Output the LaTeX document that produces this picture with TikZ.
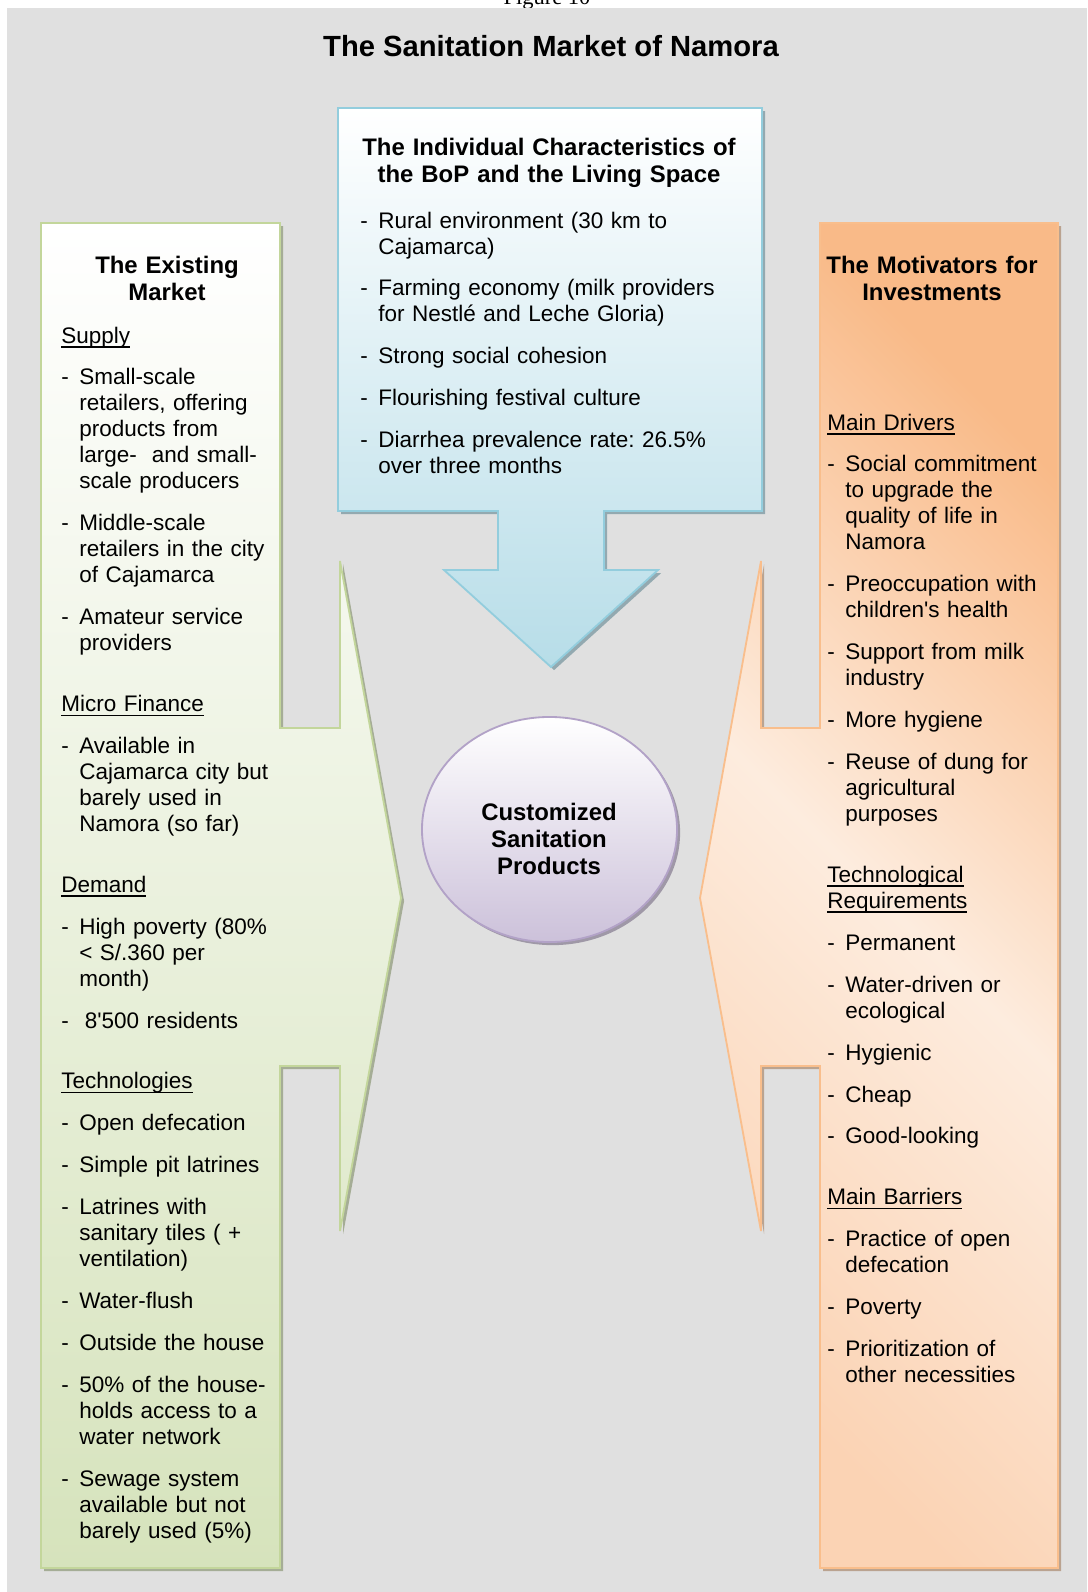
\documentclass[tikz,border=0pt]{standalone}
\usepackage{fontspec}
\setmainfont{Liberation Sans}
\newfontfamily\figfont{Liberation Serif}
\usetikzlibrary{shapes.geometric,shadows}
\frenchspacing

\definecolor{bggray}{RGB}{224,224,224}
\definecolor{grnline}{RGB}{195,214,155}
\definecolor{grnfill}{RGB}{214,227,188}
\definecolor{bluline}{RGB}{147,205,221}
\definecolor{blufill}{RGB}{183,221,232}
\definecolor{orgline}{RGB}{249,190,140}
\definecolor{orgdark}{RGB}{249,186,136}
\definecolor{orgmid}{RGB}{251,211,180}
\definecolor{orglight}{RGB}{253,236,222}
\definecolor{violine}{RGB}{178,162,199}
\definecolor{viofill}{RGB}{204,193,218}

% list items with a hanging dash, and underlined headings
\newlength{\dashw}
\setlength{\dashw}{12.8pt}
\newsavebox{\ulbox}
\newcommand{\ulw}[1]{\sbox{\ulbox}{#1}\rlap{\rule[-3.3pt]{\wd\ulbox}{1.1pt}}\usebox{\ulbox}}
\newcommand{\itm}[1]{\setlength{\parskip}{11.3pt}\hangindent=\dashw\hangafter=1\noindent\makebox[\dashw][l]{-}#1\par}
\newcommand{\hdr}[1]{\setlength{\parskip}{11.3pt}\noindent#1\par}
\newcommand{\sect}[1]{\vspace{13.4pt}\hdr{#1}}

\begin{document}
\begin{tikzpicture}[x=0.025cm,y=-0.025cm,
  body/.style={anchor=base west,inner sep=0pt,align=left,font=\fontsize{16}{18.5}\selectfont},
  head/.style={anchor=base,inner sep=0pt,align=center,text width=10cm,font=\fontsize{17}{19.5}\selectfont\bfseries},
  panel/.style={draw=#1line,line width=1.3pt,
    drop shadow={shadow xshift=2.2pt,shadow yshift=-2.2pt,fill=#1line!65!black,opacity=0.6}}]
  \useasboundingbox (0,0) rectangle (1087,1592);
  \node[anchor=base,inner sep=0pt,font=\figfont\fontsize{16}{18}\selectfont] (figcap) at (547,4) {Figure 10};
  \fill[bggray] (7,8) rectangle (1087,1592);
  \node[anchor=base,inner sep=0pt,font=\fontsize{20.75}{24}\selectfont\bfseries] (title) at (551,56.5) {The Sanitation Market of Namora};

  % panels
  \draw[panel=grn,top color=white,bottom color=grnfill]
    (41,223) -- (280,223) -- (280,728) -- (340,728) -- (340,561) -- (401,898) -- (340,1231)
    -- (340,1066) -- (280,1066) -- (280,1568) -- (41,1568) -- cycle;
  \draw[panel=org,top color=orgdark,bottom color=orgmid,middle color=orglight,shading angle=-45]
    (820,223) -- (1058,223) -- (1058,1568) -- (820,1568) -- (820,1066) -- (761,1066) -- (761,1231)
    -- (700,898) -- (761,561) -- (761,728) -- (820,728) -- cycle;
  \draw[panel=blu,top color=white,bottom color=blufill]
    (338,108) -- (762,108) -- (762,511) -- (604,511) -- (604,570) -- (658,570) -- (551,667)
    -- (444,570) -- (498,570) -- (498,511) -- (338,511) -- cycle;
  \node[ellipse,panel=vio,top color=white,bottom color=viofill,inner sep=0pt,
    minimum width=6.375cm,minimum height=5.625cm] (prod) at (549.5,829.5) {};
  \node[head] (prodtxt) at (549,820) {Customized\\Sanitation\\Products};

  % headings
  \node[head] (bophead) at (549,155) {The Individual Characteristics of\\the BoP and the Living Space};
  \node[head] (mkthead) at (167,273.5) {The Existing\\Market};
  \node[head] (mothead) at (932,273.5) {The Motivators for\\Investments};

  % texts
  \node[body,text width=9.6cm] (boptext) at (360,228) {%
    \itm{Rural environment (30 km to\newline Cajamarca)}
    \itm{Farming economy (milk providers\newline for Nestlé and Leche Gloria)}
    \itm{Strong social cohesion}
    \itm{Flourishing festival culture}
    \itm{Diarrhea prevalence rate: 26.5\%\newline over three months}};
  \node[body,text width=5.8cm] (mkttext) at (61,343) {%
    \hdr{\ulw{Supply}}
    \itm{Small-scale\newline retailers, offering\newline products from\newline large-\ \ and small-\newline scale producers}
    \itm{Middle-scale\newline retailers in the city\newline of Cajamarca}
    \itm{Amateur service\newline providers}
    \sect{\ulw{Micro Finance}}
    \itm{Available in\newline Cajamarca city but\newline barely used in\newline Namora (so far)}
    \sect{\ulw{Demand}}
    \itm{High poverty (80\%\newline < S/.360 per\newline month)}
    \itm{\hspace{4pt}8\textquotesingle500 residents}
    \sect{\ulw{Technologies}}
    \itm{Open defecation}
    \itm{Simple pit latrines}
    \itm{Latrines with\newline sanitary tiles ( +\newline ventilation)}
    \itm{Water-flush}
    \itm{Outside the house}
    \itm{50\% of the house-\newline holds access to a\newline water network}
    \itm{Sewage system\newline available but not\newline barely used (5\%)}};
  \node[body,text width=5.8cm] (mottext) at (827,430) {%
    \hdr{\ulw{Main Drivers}}
    \itm{Social commitment\newline to upgrade the\newline quality of life in\newline Namora}
    \itm{Preoccupation with\newline children\textquotesingle s health}
    \itm{Support from milk\newline industry}
    \itm{More hygiene}
    \itm{Reuse of dung for\newline agricultural\newline purposes}
    \sect{\ulw{Technological}\newline\ulw{Requirements}}
    \itm{Permanent}
    \itm{Water-driven or\newline ecological}
    \itm{Hygienic}
    \itm{Cheap}
    \itm{Good-looking}
    \sect{\ulw{Main Barriers}}
    \itm{Practice of open\newline defecation}
    \itm{Poverty}
    \itm{Prioritization of\newline other necessities}};
\end{tikzpicture}
\end{document}
